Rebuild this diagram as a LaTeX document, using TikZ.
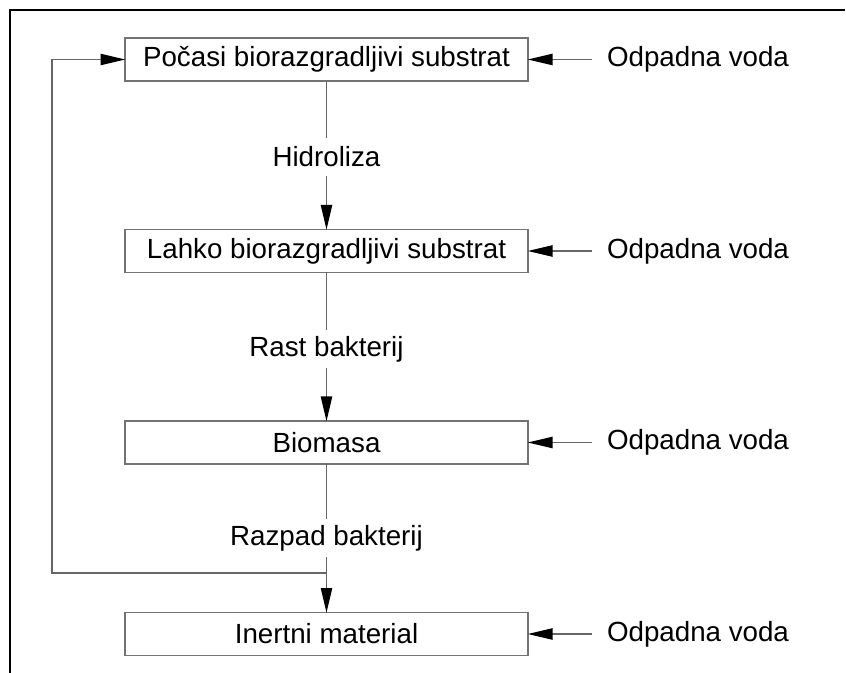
\documentclass[tikz,border=0pt]{standalone}
\usepackage{fontspec}
\setmainfont{Liberation Sans}
\usetikzlibrary{arrows.meta,positioning}

\tikzset{
    procbox/.style={draw=black!55, line width=1.1pt, minimum width=302pt, minimum height=32pt, inner sep=0pt, outer sep=0pt},
    flowlbl/.style={inner sep=0pt, outer sep=0pt, minimum height=28.5pt},
    inflow/.style={anchor=west, inner xsep=11.25pt, inner ysep=0pt, outer sep=0pt},
    conn/.style={draw=black!60, line width=0.9pt},
    arr/.style={conn, -{Triangle[length=18.5pt, width=8.5pt, color=black]}}
}

\begin{document}
\begin{tikzpicture}[x=0.75pt, y=-0.75pt, font=\fontsize{20.8}{24}\selectfont]
    \useasboundingbox (0,0) rectangle (846,673);
    % frame
    \draw[line width=2pt] (845,10) -- (10,10) -- (10,673);

    % process boxes
    \node[procbox] (pocasi) at (326.5,59.5) {Počasi biorazgradljivi substrat};
    \node[procbox] (lahko) at (326.5,251) {Lahko biorazgradljivi substrat};
    \node[procbox] (bio) at (326.5,442.5) {Biomasa};
    \node[procbox] (inert) at (326.5,634) {Inertni material};

    % transitions
    \node[flowlbl] (hidro) at (326.5,157) {Hidroliza};
    \node[flowlbl] (rast) at (326.5,349) {Rast bakterij};
    \node[flowlbl] (razpad) at (326.5,538) {Razpad bakterij};

    \draw[conn] (pocasi) -- (hidro);
    \draw[arr] (hidro) -- (lahko);
    \draw[conn] (lahko) -- (rast);
    \draw[arr] (rast) -- (bio);
    \draw[conn] (bio) -- (razpad);
    \draw[arr] (razpad) -- (inert);

    % feedback of decay products
    \coordinate (junc) at (326.5,573);
    \coordinate (fbl) at (52,573);
    \draw[arr] (junc) -- (fbl) |- (pocasi.west);

    % wastewater inflows
    \foreach \b/\y in {pocasi/59.5, lahko/251, bio/442.5, inert/634}{
        \node[inflow] (w-\b) at (592,\y) {Odpadna voda};
        \draw[arr] (w-\b) -- (\b);
    }
\end{tikzpicture}
\end{document}
